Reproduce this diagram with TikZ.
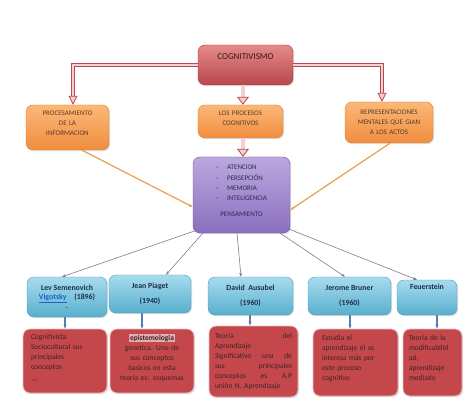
\documentclass[tikz,border=0pt]{standalone}
\usepackage{fontspec}
\setmainfont{Carlito}
\usetikzlibrary{arrows.meta,shadows}

\definecolor{cogtop}{HTML}{E48A8A}
\definecolor{cogbot}{HTML}{B8474D}
\definecolor{cogline}{HTML}{A8383F}
\definecolor{cogtext}{HTML}{3A1A1A}
\definecolor{ortop}{HTML}{FBB877}
\definecolor{orbot}{HTML}{F08D3F}
\definecolor{orline}{HTML}{E07A2A}
\definecolor{ortext}{HTML}{5A3A28}
\definecolor{purtop}{HTML}{BBA8DE}
\definecolor{purbot}{HTML}{8B6FBF}
\definecolor{purline}{HTML}{6A4F9A}
\definecolor{purtext}{HTML}{2B2950}
\definecolor{bluetop}{HTML}{A6DCEE}
\definecolor{bluebot}{HTML}{59AFCD}
\definecolor{blueline}{HTML}{4A9AB8}
\definecolor{bluetext}{HTML}{1F2C4D}
\definecolor{linkblue}{HTML}{1F5FC8}
\definecolor{redfill}{HTML}{C4474C}
\definecolor{redtext}{HTML}{3D2426}
\definecolor{barred}{HTML}{B94A52}
\definecolor{barpink}{HTML}{F3D0D0}
\definecolor{grayarr}{HTML}{7F7A99}
\definecolor{orarr}{HTML}{E8A050}
\definecolor{smallblue}{HTML}{4F7FB5}

\begin{document}
\begin{tikzpicture}[x=1pt, y=-1pt,
	box/.style={rounded corners=7pt, align=center, inner sep=3pt,
		drop shadow={opacity=0.25, shadow xshift=1.2pt, shadow yshift=-1.2pt},
		font=\fontsize{7}{10}\selectfont},
	cogbox/.style={box, draw=cogline, top color=cogtop, bottom color=cogbot, text=cogtext,
		minimum width=95pt, text height=12pt, text depth=22pt, font=\fontsize{9}{11}\selectfont},
	orangebox/.style={box, draw=orline, top color=ortop, bottom color=orbot, text=ortext},
	purplebox/.style={box, draw=purline, top color=purtop, bottom color=purbot, text=purtext,
		font=\fontsize{7}{10.5}\selectfont},
	bluebox/.style={box, draw=blueline, top color=bluetop, bottom color=bluebot, text=bluetext,
		font=\fontsize{7.8}{9}\selectfont\bfseries},
	redbox/.style={box, draw=white!65!redfill, line width=0.8pt, fill=redfill, text=redtext,
		inner ysep=4pt, font=\fontsize{7.5}{10}\selectfont},
	hollow/.style={draw=barred, double=barpink, line width=0.8pt, double distance=1.6pt,
		-{Triangle[open, length=9pt, width=9pt, fill=barpink]}},
	bighollow/.style={hollow, double distance=3.2pt,
		-{Triangle[open, length=8pt, width=12pt, fill=barpink]}},
	orangearrow/.style={draw=orarr, line width=1.2pt, -{Stealth[length=4pt]}},
	grayarrow/.style={draw=grayarr, line width=0.6pt, -{Stealth[length=4pt]}},
	bluearrow/.style={draw=smallblue, line width=1.1pt, -{Stealth[length=4pt]}}]

	\useasboundingbox (0,0) rectangle (474,401);

	\node at (245.5,65) [cogbox] (cog) {COGNITIVISMO};

	\node at (67.5,127.5) [orangebox, text width=77pt, text height=7.5pt, text depth=31.5pt] (proc) {PROCESAMIENTO\\DE LA\\INFORMACION};
	\node at (240.5,121.5) [orangebox, text width=79pt, text height=7.5pt, text depth=19.5pt] (pc) {LOS PROCESOS\\COGNITIVOS};
	\node at (389,122.5) [orangebox, text width=82pt, text height=9.5pt, text depth=25.5pt] (rep) {REPRESENTACIONES\\MENTALES QUE GIAN\\A LOS ACTOS};

	\node at (241.5,195) [purplebox, text width=91pt, text height=9.5pt, text depth=60.5pt] (purp) {\begin{tabular}[t]{@{}l@{\hspace{9pt}}l@{}}
		- & ATENCION\\
		- & PERSEPCIÓN\\
		- & MEMORIA\\
		- & INTELIGENCIA
	\end{tabular}\\[7pt]PENSAMIENTO};

	\node at (67,297) [bluebox, minimum width=80pt, minimum height=40pt] (lev) {Lev Semenovich\\\textcolor{linkblue}{\underline{Vigotsky}}\quad(1896)\\.};
	\node at (150,294) [bluebox, minimum width=82pt, minimum height=38pt] (pia) {Jean Piaget\\[6pt](1940)};
	\node at (250.5,296) [bluebox, minimum width=85pt, minimum height=38pt] (aus) {David\ \ Ausubel\\[6pt](1960)};
	\node at (349.5,296) [bluebox, minimum width=83pt, minimum height=38pt] (bru) {Jerome Bruner\\[6pt](1960)};
	\node at (427,297.5) [bluebox, minimum width=60pt, text height=6.5pt, text depth=22.5pt] (feu) {Feuerstein};

	\node at (65,361) [redbox, align=left, inner xsep=8pt, text width=68pt, text height=6pt, text depth=50pt] (lr) {Cognitivista\\Sociocultural sus\\principales\\conceptos\\[3pt]—};
	\node at (152,361) [redbox, align=center, inner xsep=5pt, text width=74pt, text height=7pt, text depth=49pt] (pr) {{\setlength{\fboxsep}{0.6pt}\colorbox{white!55!redfill}{\textbf{epistemologia}}}\\genetica. Uno de\\sus conceptos\\basicos en esta\\teoría es: esquemas};
	\node at (253.5,361.5) [redbox, align=left, inner xsep=6pt, text width=77pt, text height=8pt, text depth=55pt] (ar) {Teoría\hfill del\\Aprendizaje\\Significativo\hfill una\hfill de\\sus\hfill principales\\conceptos\hfill es\hfill A.P\\unión N. Aprendizaje};
	\node at (355.5,362.5) [redbox, align=left, inner xsep=9pt, text width=67pt, text height=7pt, text depth=52pt] (br) {Estudia el\\aprendizaje él se\\interesa más por\\este proceso\\cognitivo};
	\node at (432.5,362.5) [redbox, align=left, inner xsep=6pt, text width=47pt, text height=7pt, text depth=52pt] (fr) {Teoría de la\\modificabilid\\ad,\\aprendizaje\\mediado};



	\draw [hollow] (cog.west) -| ([xshift=5.5pt]proc.north);
	\draw [hollow] (cog.east) -| ([xshift=-7pt]rep.north);
	\draw [bighollow] ([xshift=-2.5pt]cog.south) -- ([xshift=2.5pt]pc.north);
	\draw [bighollow] ([xshift=2.5pt]pc.south) -- ([xshift=1.5pt]purp.north);

	\draw [orangearrow] ([xshift=14.5pt]proc.south) -- ([yshift=-12pt]purp.west);
	\draw [orangearrow] ([xshift=1pt]rep.south) -- ([yshift=-15pt]purp.east);

	\draw [grayarrow] ([xshift=4pt, yshift=3pt]purp.south west) -- ([xshift=-5pt]lev.north);
	\draw [grayarrow] ([xshift=10pt]purp.south west) -- ([xshift=16pt]pia.north);
	\draw [grayarrow] ([xshift=-4.5pt]purp.south) -- ([xshift=-9.5pt]aus.north);
	\draw [grayarrow] ([xshift=-10pt]purp.south east) -- ([xshift=-4.5pt]bru.north);
	\draw [grayarrow] ([xshift=-1pt, yshift=4pt]purp.south east) -- ([xshift=-10pt]feu.north);

	\draw [bluearrow] ([xshift=-2pt]lev.south) -- (lr.north);
	\draw [bluearrow] ([xshift=-8pt]pia.south) -- ([xshift=-10pt]pr.north);
	\draw [bluearrow] ([xshift=-0.5pt]aus.south) -- ([xshift=-3.5pt]ar.north);
	\draw [bluearrow] ([xshift=0.5pt]bru.south) -- ([xshift=-5.5pt]br.north);
	\draw [bluearrow] ([xshift=10pt]feu.south) -- ([xshift=4.5pt]fr.north);

\end{tikzpicture}
\end{document}
